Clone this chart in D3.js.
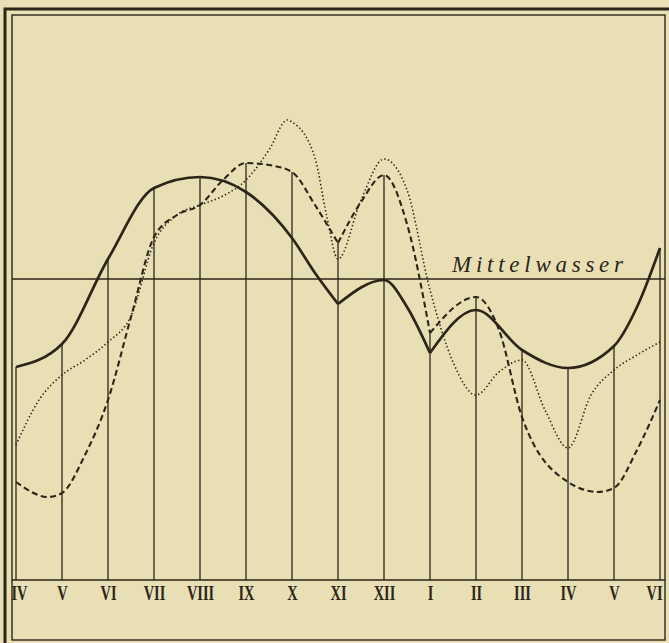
<!DOCTYPE html>
<html>
<head>
<meta charset="utf-8">
<script src="https://cdn.jsdelivr.net/npm/d3@7/dist/d3.min.js"></script>
<style>
  html, body { margin: 0; padding: 0; background: #e9dfb5; }
</style>
</head>
<body>
<div id="chart"></div>
<script>
const WIDTH = 669;
const HEIGHT = 643;

// frame (inner box) and plot box
const FRAME_LEFT = 12, FRAME_RIGHT = 665, FRAME_TOP = 15, FRAME_BOTTOM = 640;
const PLOT_LEFT = 16, PLOT_RIGHT = 660;
const BASE_Y = 580, MITTEL_Y = 279;

const INK = "#2d2518";

// month labels, IV of one year to VI of the next
const months = ["IV", "V", "VI", "VII", "VIII", "IX", "X", "XI", "XII", "I", "II", "III", "IV", "V", "VI"];

// water level relative to Mittelwasser (0), position = month index
const solidPos = [0, 1, 2, 3, 4, 5, 6, 6.5, 7, 8, 8.5, 9, 10, 11, 12, 13, 13.5, 14];
const solidVal = [-8.8, -6.5, 2.0, 9.1, 10.2, 8.7, 4.1, 0.6, -2.5, -0.1, -2.8, -7.4, -3.1, -7.1, -8.9, -6.7, -2.8, 3.1];
const solidBreaks = [7, 9];

const dashedPos = [0, 0.7, 1, 1.5, 2, 2.5, 3, 3.5, 4, 4.5, 5, 5.5, 6, 6.5, 7, 7.5, 8, 8.5, 9, 10, 10.5, 11, 12, 12.65, 13, 13.5, 14];
const dashedVal = [-20.3, -21.8, -21.4, -17.6, -12.1, -3.8, 4.2, 6.4, 7.4, 9.9, 11.6, 11.4, 10.7, 7.4, 3.6, 7.7, 10.4, 5.5, -5.4, -1.8, -5.1, -13.8, -20.3, -21.3, -20.9, -17.1, -12.1];
const dashedBreaks = [7, 9];

const dottedPos = [0, 0.5, 1, 1.5, 2, 2.5, 3, 3.5, 4, 4.5, 5, 5.5, 5.9, 6, 6.5, 6.75, 7, 7.5, 8, 8.5, 9, 9.5, 10, 10.5, 11, 11.5, 12, 12.5, 13, 13.5, 14];
const dottedVal = [-16.6, -12.1, -9.6, -8.1, -6.3, -3.7, 3.6, 6.4, 7.4, 8.3, 9.9, 12.9, 15.9, 15.7, 12.1, 6.4, 2.0, 7.9, 12.0, 8.9, -1.1, -8.3, -11.6, -9.3, -8.1, -13.1, -16.9, -11.6, -9.1, -7.6, -6.3];
const dottedBreaks = [];

const MITTEL_LABEL = "Mittelwasser";

const xScale = d3.scaleLinear().domain([0, months.length - 1]).range([PLOT_LEFT, PLOT_RIGHT]);
const yScale = d3.scaleLinear().domain([-30.1, 0]).range([BASE_Y, MITTEL_Y]);

const svg = d3.select("#chart")
  .append("svg")
  .attr("width", WIDTH)
  .attr("height", HEIGHT)
  .style("background-color", "#e9dfb5");

// double frame
svg.append("rect")
  .attr("x", 5).attr("y", 9)
  .attr("width", 667).attr("height", 638)
  .attr("fill", "none").attr("stroke", INK).attr("stroke-width", 3);
svg.append("rect")
  .attr("x", FRAME_LEFT).attr("y", FRAME_TOP)
  .attr("width", FRAME_RIGHT - FRAME_LEFT).attr("height", FRAME_BOTTOM - FRAME_TOP)
  .attr("fill", "none").attr("stroke", INK).attr("stroke-width", 1.4);

// helpers
function valueAt(pos, val, m) {
  let i = pos.indexOf(m);
  return i >= 0 ? val[i] : null;
}

// month verticals: from the baseline up to the higher of solid / dashed
let verticalTops = months.map((m, i) => Math.max(valueAt(solidPos, solidVal, i), valueAt(dashedPos, dashedVal, i)));

svg.append("g")
  .selectAll("line")
  .data(verticalTops)
  .enter()
  .append("line")
  .attr("x1", (d, i) => xScale(i))
  .attr("x2", (d, i) => xScale(i))
  .attr("y1", BASE_Y)
  .attr("y2", d => yScale(d))
  .attr("stroke", INK)
  .attr("stroke-width", 1.3);

// Mittelwasser line
svg.append("line")
  .attr("x1", FRAME_LEFT).attr("x2", FRAME_RIGHT)
  .attr("y1", yScale(0)).attr("y2", yScale(0))
  .attr("stroke", INK).attr("stroke-width", 1.4);

svg.append("text")
  .attr("x", 452)
  .attr("y", yScale(0) - 7)
  .attr("textLength", 171)
  .attr("lengthAdjust", "spacing")
  .style("font-family", "'Liberation Serif', 'DejaVu Serif', serif")
  .style("font-style", "italic")
  .style("font-size", "23px")
  .attr("fill", INK)
  .text(MITTEL_LABEL);

// baseline + month labels
svg.append("line")
  .attr("x1", FRAME_LEFT).attr("x2", FRAME_RIGHT)
  .attr("y1", BASE_Y).attr("y2", BASE_Y)
  .attr("stroke", INK).attr("stroke-width", 1.5);

let xAxis = d3.axisBottom(xScale)
  .tickValues(d3.range(months.length))
  .tickFormat(i => months[i])
  .tickSize(0)
  .tickPadding(0);

let axisG = svg.append("g")
  .attr("transform", "translate(0," + BASE_Y + ")")
  .call(xAxis)
  .call(g => g.select(".domain").remove());

axisG.selectAll("text")
  .attr("y", 0)
  .attr("dy", 0)
  .attr("fill", INK)
  .style("font-family", "'Liberation Serif', 'DejaVu Serif', serif")
  .style("font-weight", "bold")
  .style("font-size", "20px")
  .attr("transform", (d, i) => {
    let shift = i === 0 ? 3 : (i === months.length - 1 ? -6 : 0);
    return "translate(" + shift + ",20) scale(0.72,1)";
  });

// curves
function segments(pos, val, breaks) {
  let pts = pos.map((p, i) => [p, val[i]]);
  let cuts = [pos[0]].concat(breaks, [pos[pos.length - 1]]);
  let out = [];
  for (let k = 0; k < cuts.length - 1; k++) {
    out.push(pts.filter(d => d[0] >= cuts[k] && d[0] <= cuts[k + 1]));
  }
  return out;
}

let line = d3.line()
  .x(d => xScale(d[0]))
  .y(d => yScale(d[1]))
  .curve(d3.curveMonotoneX);

function drawSeries(pos, val, breaks, width, dash) {
  svg.append("g")
    .selectAll("path")
    .data(segments(pos, val, breaks))
    .enter()
    .append("path")
    .attr("d", line)
    .attr("fill", "none")
    .attr("stroke", INK)
    .attr("stroke-width", width)
    .attr("stroke-dasharray", dash)
    .attr("stroke-linejoin", "round");
}

drawSeries(dottedPos, dottedVal, dottedBreaks, 1.6, "1.4,2.4");
drawSeries(dashedPos, dashedVal, dashedBreaks, 2.1, "6,3.5");
drawSeries(solidPos, solidVal, solidBreaks, 2.7, null);
</script>
</body>
</html>
